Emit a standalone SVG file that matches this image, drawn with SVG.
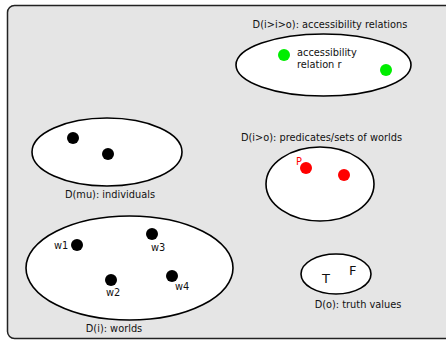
<svg xmlns="http://www.w3.org/2000/svg" width="446" height="341" viewBox="0 0 446 341">
  <style>
    .dom { fill: #ffffff; stroke: #000000; stroke-width: 1.6; }
    .lbl { font-family: "DejaVu Sans", sans-serif; font-size: 9.8px; fill: #111111; }
    .big { font-family: "DejaVu Sans", sans-serif; font-size: 13px; fill: #111111; }
    .dot { fill: #000000; }
    .green { fill: #00ee00; }
    .red { fill: #ff0000; }
  </style>
  <!-- model frame -->
  <rect x="7.5" y="5.5" width="446" height="333" rx="7" fill="#e5e5e5" stroke="#222222" stroke-width="1.5"/>

  <g id="accessibility">
    <ellipse class="dom" cx="323.5" cy="65" rx="87.5" ry="31"/>
    <circle class="green" cx="284" cy="55" r="6"/>
    <circle class="green" cx="386" cy="70" r="6"/>
    <text class="lbl" x="297" y="56">accessibility</text>
    <text class="lbl" x="297" y="68">relation r</text>
    <text class="lbl" x="330" y="28" text-anchor="middle">D(i&gt;i&gt;o): accessibility relations</text>
  </g>

  <g id="individuals">
    <ellipse class="dom" cx="107" cy="152" rx="75" ry="34"/>
    <circle class="dot" cx="73" cy="138" r="6"/>
    <circle class="dot" cx="108" cy="154" r="6"/>
    <text class="lbl" x="110" y="198" text-anchor="middle">D(mu): individuals</text>
  </g>

  <g id="predicates">
    <ellipse class="dom" cx="320" cy="184" rx="54" ry="37"/>
    <circle class="red" cx="306" cy="168" r="6"/>
    <circle class="red" cx="344" cy="175" r="6"/>
    <text class="lbl" x="296" y="165" style="fill:#ff0000">P</text>
    <text class="lbl" x="321.5" y="141" text-anchor="middle">D(i&gt;o): predicates/sets of worlds</text>
  </g>

  <g id="worlds">
    <ellipse class="dom" cx="129.5" cy="268" rx="103.5" ry="52"/>
    <circle class="dot" cx="77" cy="245" r="6"/>
    <circle class="dot" cx="152" cy="234" r="6"/>
    <circle class="dot" cx="111" cy="280" r="6"/>
    <circle class="dot" cx="172" cy="276" r="6"/>
    <text class="lbl" x="54" y="249">w1</text>
    <text class="lbl" x="151" y="251">w3</text>
    <text class="lbl" x="106" y="296">w2</text>
    <text class="lbl" x="175" y="290">w4</text>
    <text class="lbl" x="114" y="332" text-anchor="middle">D(i): worlds</text>
  </g>

  <g id="truthvalues">
    <ellipse class="dom" cx="336" cy="274" rx="35" ry="20"/>
    <text class="big" x="322" y="283">T</text>
    <text class="big" x="349" y="275">F</text>
    <text class="lbl" x="358" y="308" text-anchor="middle">D(o): truth values</text>
  </g>

  <g id="connectors"/>
</svg>
